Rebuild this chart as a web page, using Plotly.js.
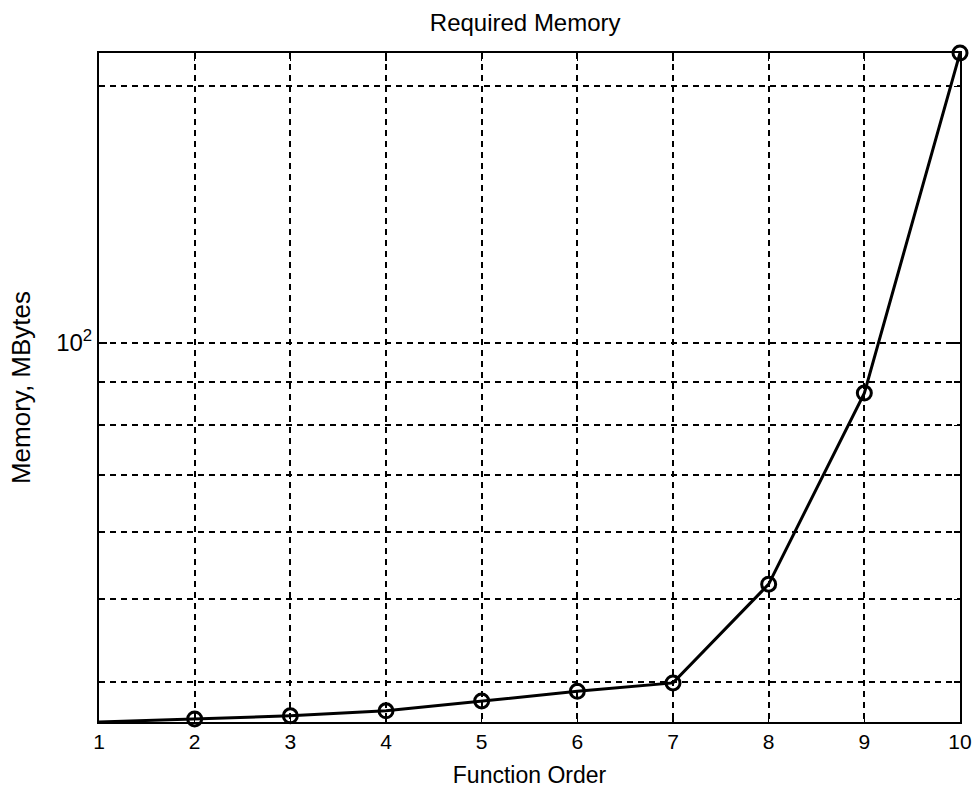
<!DOCTYPE html>
<html>
<head>
<meta charset="utf-8">
<script src="https://cdn.plot.ly/plotly-3.0.1.min.js"></script>
<style>html,body{margin:0;padding:0;background:#fff;}#chart{width:978px;height:796px;}</style>
</head>
<body>
<div id="chart"></div>
<script>
// Data
const functionOrder = [1, 2, 3, 4, 5, 6, 7, 8, 9, 10];
const memoryMB = [35.9, 36.2, 36.5, 37.0, 38.0, 39.0, 39.9, 52.1, 87.3, 218.8];

const xTickVals = [1, 2, 3, 4, 5, 6, 7, 8, 9, 10];
const xTickText = ['1', '2', '3', '4', '5', '6', '7', '8', '9', '10'];
const yTickVals = [100];
const yTickText = ['10<sup>2</sup>'];
const yMinorVals = [40, 50, 60, 70, 80, 90, 200];

const trace = {
  x: functionOrder,
  y: memoryMB,
  type: 'scatter',
  mode: 'lines+markers',
  line: {color: '#000', width: 3},
  marker: {symbol: 'circle-open', size: 14, color: '#000', line: {width: 3, color: '#000'}},
  cliponaxis: false,
  showlegend: false
};

const fontFam = 'Arial, "Liberation Sans", Helvetica, sans-serif';

const layout = {
  width: 978,
  height: 796,
  margin: {l: 99, r: 18, t: 53, b: 74},
  paper_bgcolor: '#fff',
  plot_bgcolor: '#fff',
  font: {family: fontFam, color: '#000', size: 21},
  title: {text: 'Required Memory', font: {size: 24, family: fontFam, color: '#000'}, x: 0.537, xref: 'container', xanchor: 'center', y: 0.972, yref: 'container', yanchor: 'middle'},
  xaxis: {
    range: [1, 10],
    tickvals: xTickVals,
    ticktext: xTickText,
    showgrid: true,
    gridcolor: '#000',
    gridwidth: 2,
    griddash: '6px,5px',
    ticks: 'inside',
    ticklen: 8,
    tickwidth: 1.5,
    tickcolor: '#000',
    showline: true,
    linecolor: '#000',
    linewidth: 2,
    mirror: 'ticks',
    zeroline: false,
    tickfont: {size: 21, family: fontFam},
    title: {text: 'Function Order', font: {size: 23, family: fontFam}, standoff: 15}
  },
  yaxis: {
    type: 'log',
    range: [Math.log10(35.9), Math.log10(218.8)],
    tickvals: yTickVals,
    ticktext: yTickText,
    showgrid: true,
    gridcolor: '#000',
    gridwidth: 2,
    griddash: '6px,5px',
    ticks: 'inside',
    ticklen: 8,
    tickwidth: 1.5,
    tickcolor: '#000',
    minor: {
      tickvals: yMinorVals,
      showgrid: true,
      gridcolor: '#000',
      gridwidth: 2,
      griddash: '6px,5px',
      ticks: 'inside',
      ticklen: 6,
      tickcolor: '#000'
    },
    showline: true,
    linecolor: '#000',
    linewidth: 2,
    mirror: 'ticks',
    zeroline: false,
    tickfont: {size: 24, family: fontFam},
    title: {text: 'Memory, MBytes', font: {size: 26, family: fontFam}, standoff: 18}
  }
};

Plotly.newPlot('chart', [trace], layout, {displayModeBar: false, staticPlot: true});
</script>
</body>
</html>
